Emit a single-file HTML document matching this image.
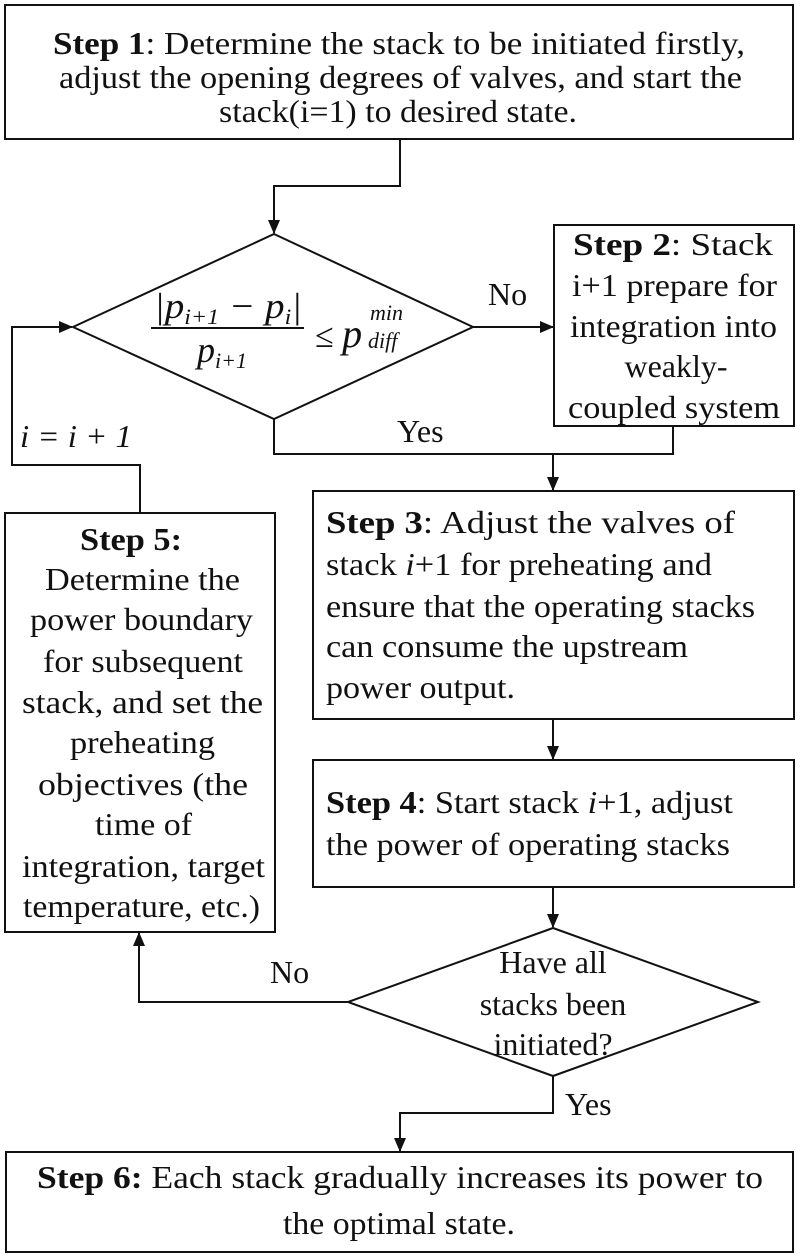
<!DOCTYPE html>
<html><head><meta charset="utf-8"><style>
html,body{margin:0;padding:0;background:#fff;}
svg{display:block;}
text{font-family:"Liberation Serif","Times New Roman",serif;font-size:32px;fill:#111;}
.b{font-weight:bold;}
.i{font-style:italic;}
</style></head><body>
<svg width="800" height="1258" viewBox="0 0 800 1258" xmlns="http://www.w3.org/2000/svg">
<defs><marker id="a" markerWidth="14" markerHeight="14" refX="13" refY="7" orient="auto" markerUnits="userSpaceOnUse"><path d="M0,1 L14,7 L0,13 Z" fill="#111"/></marker></defs>
<g fill="none" stroke="#111" stroke-width="2">
<rect x="5" y="5" width="788" height="134"/>
<rect x="554" y="225" width="240" height="201"/>
<rect x="313" y="491" width="481" height="228"/>
<rect x="313" y="760" width="481" height="127"/>
<rect x="5" y="513" width="270" height="419"/>
<rect x="6" y="1152" width="787" height="100"/>
<polygon points="274,234 473,327 274,419 73,327"/>
<polygon points="553,928 758,1002 553,1076 348,1002"/>
<polyline points="400,139 400,186 274,186 274,233" marker-end="url(#a)"/>
<polyline points="473,327 553,327" marker-end="url(#a)"/>
<polyline points="274,419 274,454 673,454 673,426"/>
<polyline points="553,454 553,490" marker-end="url(#a)"/>
<polyline points="553,719 553,759" marker-end="url(#a)"/>
<polyline points="553,887 553,927" marker-end="url(#a)"/>
<polyline points="348,1002 139,1002 139,933" marker-end="url(#a)"/>
<polyline points="553,1076 553,1113 400,1113 400,1151" marker-end="url(#a)"/>
<polyline points="140,512 140,465 12,465 12,327 72,327" marker-end="url(#a)"/>
<line x1="151" y1="328" x2="304" y2="328"/>
</g>
<!-- Step 1 -->
<text x="53" y="54" textLength="692" lengthAdjust="spacingAndGlyphs"><tspan class="b">Step 1</tspan>:  Determine the stack to be initiated firstly,</text>
<text x="59" y="88" textLength="683" lengthAdjust="spacingAndGlyphs">adjust the opening degrees of valves, and start the</text>
<text x="219" y="122" textLength="358" lengthAdjust="spacingAndGlyphs">stack(i=1) to desired state.</text>
<!-- Diamond 1 formula -->
<text class="i" x="154" y="318" textLength="148" lengthAdjust="spacingAndGlyphs" style="font-size:36px">|p<tspan style="font-size:22px" dy="6">i+1</tspan><tspan dy="-6"> − p</tspan><tspan style="font-size:22px" dy="6">i</tspan><tspan dy="-6">|</tspan></text>
<text class="i" x="197" y="362" style="font-size:36px">p<tspan style="font-size:22px" dy="6">i+1</tspan></text>
<text x="315" y="347" style="font-size:34px">≤ <tspan class="i" style="font-size:40px">p</tspan></text>
<text class="i" x="370" y="320" style="font-size:22px">min</text>
<text class="i" x="368" y="348" style="font-size:22px">diff</text>
<text x="488" y="305">No</text>
<text x="397" y="442">Yes</text>
<text class="i" x="20" y="447" textLength="112" lengthAdjust="spacingAndGlyphs">i = i + 1</text>
<!-- Step 2 -->
<text x="573" y="255" textLength="200" lengthAdjust="spacingAndGlyphs"><tspan class="b">Step 2</tspan>:  Stack</text>
<text x="572" y="296" textLength="205" lengthAdjust="spacingAndGlyphs">i+1 prepare for</text>
<text x="570" y="337" textLength="207" lengthAdjust="spacingAndGlyphs">integration into</text>
<text x="676" y="377" text-anchor="middle">weakly-</text>
<text x="568" y="418" textLength="212" lengthAdjust="spacingAndGlyphs">coupled system</text>
<!-- Step 3 -->
<text x="326" y="533" textLength="409" lengthAdjust="spacingAndGlyphs"><tspan class="b">Step 3</tspan>:   Adjust the valves of</text>
<text x="326" y="575" textLength="386" lengthAdjust="spacingAndGlyphs">stack <tspan class="i">i</tspan>+1 for preheating and</text>
<text x="326" y="617" textLength="429" lengthAdjust="spacingAndGlyphs">ensure that the operating stacks</text>
<text x="326" y="657" textLength="362" lengthAdjust="spacingAndGlyphs">can consume the upstream</text>
<text x="326" y="698" textLength="189" lengthAdjust="spacingAndGlyphs">power output.</text>
<!-- Step 4 -->
<text x="326" y="813" textLength="407" lengthAdjust="spacingAndGlyphs"><tspan class="b">Step 4</tspan>: Start stack <tspan class="i">i</tspan>+1, adjust</text>
<text x="326" y="855" textLength="404" lengthAdjust="spacingAndGlyphs">the power of operating stacks</text>
<!-- Step 5 -->
<text class="b" x="80" y="550" textLength="102" lengthAdjust="spacingAndGlyphs">Step 5:</text>
<text x="45" y="590" textLength="195" lengthAdjust="spacingAndGlyphs">Determine the</text>
<text x="30" y="630" textLength="223" lengthAdjust="spacingAndGlyphs">power boundary</text>
<text x="43" y="672" textLength="200" lengthAdjust="spacingAndGlyphs">for subsequent</text>
<text x="22" y="713" textLength="241" lengthAdjust="spacingAndGlyphs">stack,  and set the</text>
<text x="70" y="753" textLength="145" lengthAdjust="spacingAndGlyphs">preheating</text>
<text x="38" y="795" textLength="210" lengthAdjust="spacingAndGlyphs">objectives  (the</text>
<text x="95" y="835" textLength="97" lengthAdjust="spacingAndGlyphs">time of</text>
<text x="22" y="877" textLength="243" lengthAdjust="spacingAndGlyphs">integration, target</text>
<text x="23" y="917" textLength="237" lengthAdjust="spacingAndGlyphs">temperature, etc.)</text>
<!-- Diamond 2 -->
<text x="553" y="973" text-anchor="middle">Have all</text>
<text x="553" y="1015" text-anchor="middle">stacks been</text>
<text x="553" y="1055" text-anchor="middle">initiated?</text>
<text x="270" y="983">No</text>
<text x="565" y="1115">Yes</text>
<!-- Step 6 -->
<text x="37" y="1188" textLength="726" lengthAdjust="spacingAndGlyphs"><tspan class="b">Step 6:</tspan>   Each stack gradually increases its power to</text>
<text x="283" y="1234" textLength="232" lengthAdjust="spacingAndGlyphs">the optimal state.</text>
</svg>
</body></html>
